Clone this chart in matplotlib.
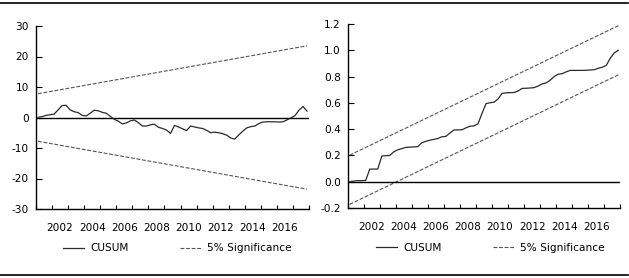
import matplotlib
matplotlib.use("Agg")
import matplotlib.pyplot as plt
from matplotlib.lines import Line2D
import numpy as np

plt.rcParams['axes.unicode_minus'] = False
plt.rcParams['font.family'] = ['DejaVu Sans']

# ---- data (quarterly, 2001Q1 .. 2017Q4) ----
start_year = 2001
n_quarters = 68

cusum = [0.0, 0.3, 0.7, 0.9, 1.1, 2.5, 3.9, 4.0, 2.5, 1.9,
         1.6, 0.7, 0.5, 1.4, 2.4, 2.2, 1.7, 1.4, 0.4, -0.6,
         -1.2, -2.1, -1.8, -1.1, -0.8, -1.7, -2.8, -2.8, -2.4, -2.2,
         -3.2, -3.6, -4.1, -5.2, -2.6, -3.1, -3.7, -4.3, -2.8, -3.1,
         -3.4, -3.6, -4.2, -5.0, -4.8, -5.0, -5.3, -5.8, -6.7, -7.1,
         -5.7, -4.5, -3.4, -3.0, -2.8, -2.0, -1.5, -1.4, -1.4, -1.4,
         -1.5, -1.4, -0.8, -0.1, 0.6, 2.4, 3.6, 2.1]

cusum_upper = [7.8, 23.5]      # 5% significance, first and last observation
cusum_lower = [-7.8, -23.5]

cusumsq = [0.0, 0.005, 0.008, 0.008, 0.01, 0.096, 0.096, 0.097, 0.195, 0.198,
           0.200, 0.228, 0.243, 0.252, 0.261, 0.263, 0.265, 0.267, 0.297, 0.307,
           0.316, 0.322, 0.329, 0.342, 0.345, 0.37, 0.394, 0.394, 0.395, 0.41,
           0.422, 0.425, 0.44, 0.52, 0.594, 0.601, 0.605, 0.63, 0.672, 0.676,
           0.678, 0.679, 0.69, 0.71, 0.711, 0.713, 0.716, 0.728, 0.744, 0.752,
           0.772, 0.80, 0.818, 0.822, 0.836, 0.847, 0.847, 0.847, 0.847, 0.848,
           0.85, 0.852, 0.863, 0.871, 0.885, 0.94, 0.98, 1.0]

cusumsq_upper = [0.202, 1.187]
cusumsq_lower = [-0.172, 0.813]

left_yticks = [-30, -20, -10, 0, 10, 20, 30]
right_yticks = [-0.2, 0.0, 0.2, 0.4, 0.6, 0.8, 1.0, 1.2]
year_labels = [2002, 2004, 2006, 2008, 2010, 2012, 2014, 2016]
legend_labels = ["CUSUM", "5% Significance"]

# ---- positions ----
x = start_year + (np.arange(n_quarters) + 0.5) / 4.0
x_ends = [x[0], x[-1]]
x_min, x_max = start_year, start_year + n_quarters / 4.0

W, H = 629, 278
fig = plt.figure(figsize=(W / 100, H / 100), dpi=100)

ax1 = fig.add_axes([36 / W, (H - 209) / H, 273 / W, 183 / H])
ax2 = fig.add_axes([347.7 / W, (H - 208) / H, 272.6 / W, 184 / H])

line_col = '#2a2a2a'
dash_col = '#555555'
dash_style = (0, (3.5, 1.5))
fs = 7.6


def style(ax, yticks, fmt, ylim, leg_x):
    ax.set_xlim(x_min, x_max)
    ax.set_ylim(*ylim)
    ax.spines['top'].set_visible(False)
    ax.spines['right'].set_visible(False)
    for s in ('left', 'bottom'):
        ax.spines[s].set_linewidth(1.0)
        ax.spines[s].set_color('black')
    ax.set_yticks(yticks)
    ax.set_yticklabels([fmt(v) for v in yticks], fontsize=fs)
    ax.tick_params(axis='y', direction='in', length=4, width=0.8, pad=5)
    years = np.arange(x_min, x_max + 1)
    ax.set_xticks(years)
    ax.set_xticklabels([])
    ax.tick_params(axis='x', which='major', direction='in', length=3, width=0.8)
    ax.set_xticks([y + 0.5 for y in year_labels], minor=True)
    ax.set_xticklabels([str(y) for y in year_labels], minor=True, fontsize=fs)
    ax.tick_params(axis='x', which='minor', length=0, pad=10)
    ax.axhline(0, color='black', lw=1.0, zorder=2)
    h1 = Line2D([], [], color=line_col, lw=0.9)
    h2 = Line2D([], [], color=dash_col, lw=0.8, linestyle=dash_style)
    ax.legend([h1, h2], legend_labels, ncol=2, loc='center',
              bbox_to_anchor=(leg_x, -0.215), frameon=False, fontsize=fs,
              handlelength=2.0, handletextpad=0.6, columnspacing=4.8)


ax1.plot(x, cusum, color=line_col, lw=0.9, zorder=3)
ax1.plot(x_ends, cusum_upper, color=dash_col, lw=0.8, linestyle=dash_style)
ax1.plot(x_ends, cusum_lower, color=dash_col, lw=0.8, linestyle=dash_style)
style(ax1, left_yticks, lambda v: f"{v:d}", (-30, 30), 0.518)

ax2.plot(x, cusumsq, color=line_col, lw=0.9, zorder=3)
ax2.plot(x_ends, cusumsq_upper, color=dash_col, lw=0.8, linestyle=dash_style)
ax2.plot(x_ends, cusumsq_lower, color=dash_col, lw=0.8, linestyle=dash_style)
style(ax2, right_yticks, lambda v: f"{v:.1f}", (-0.2, 1.2), 0.524)

# figure frame lines (top and bottom rules)
fig.add_artist(Line2D([0, 628 / W], [1 - 2.5 / H, 1 - 2.5 / H], color='black', lw=1.2,
                      transform=fig.transFigure))
fig.add_artist(Line2D([0, 628 / W], [1 - 275 / H, 1 - 275 / H], color='black', lw=1.2,
                      transform=fig.transFigure))

fig.savefig("out.png", dpi=100)
